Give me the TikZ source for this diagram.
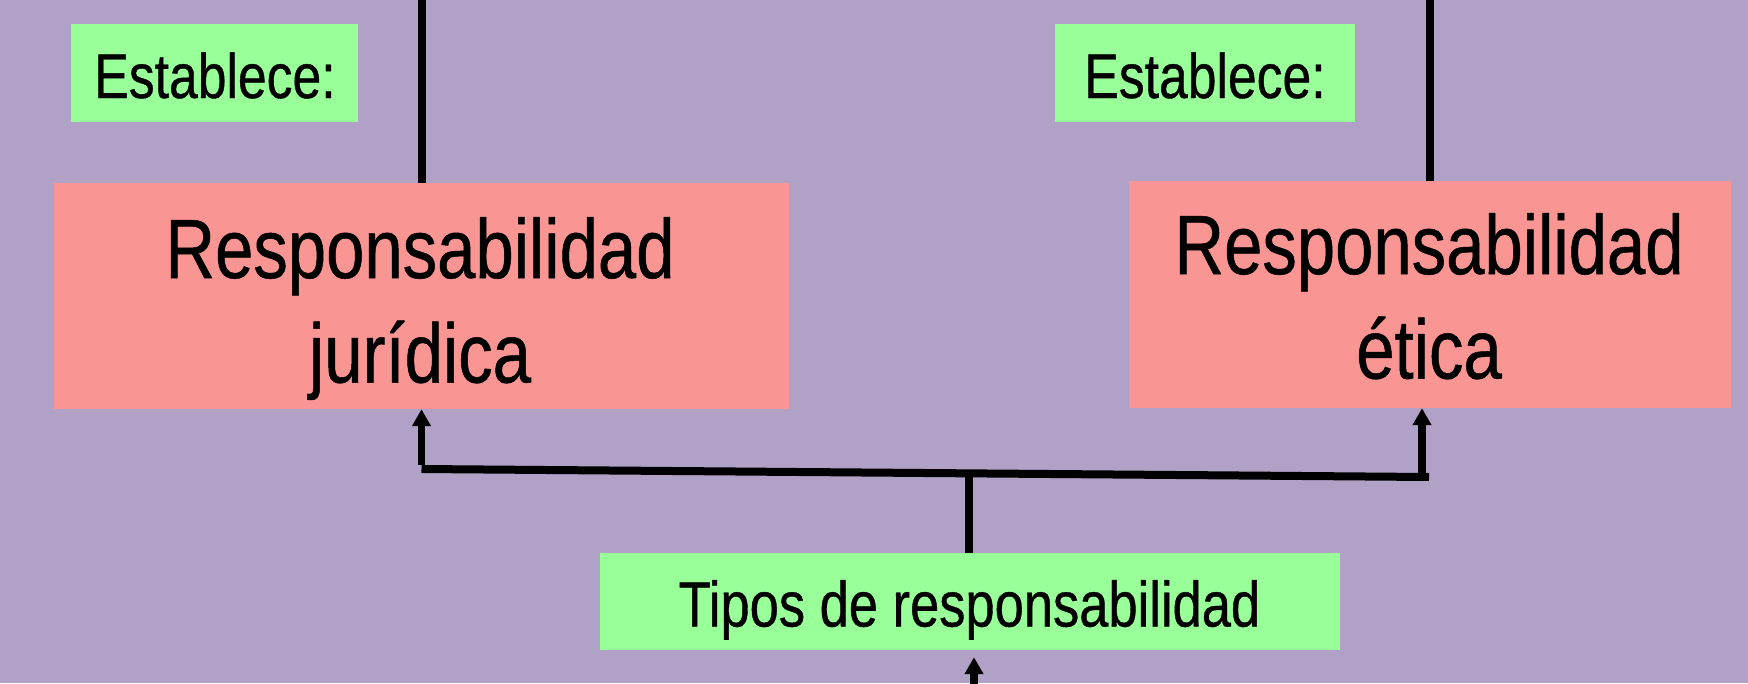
\documentclass[tikz,border=0pt]{standalone}
\usepackage{fontspec}
\setmainfont{Liberation Sans}[FakeStretch=0.82,FakeBold=0.6]
\usetikzlibrary{arrows.meta}
\definecolor{bglav}{HTML}{B2A1C7}
\definecolor{boxred}{HTML}{F99694}
\definecolor{boxgreen}{HTML}{99FF99}
\tikzset{
  greenbox/.style={fill=boxgreen,draw=none,inner sep=0pt},
  redbox/.style={fill=boxred,draw=none,inner sep=0pt},
  smalltxt/.style={inner sep=0pt,anchor=base,font=\fontsize{63}{76}\selectfont},
  bigtxt/.style={inner sep=0pt,anchor=base,font=\fontsize{84}{105}\selectfont},
  conn/.style={line width=8pt,draw=black},
  uparrow/.style={line width=7.5pt,draw=black,-{Triangle[width=18pt,length=17pt]}},
}
\begin{document}
\begin{tikzpicture}[x=1pt,y=-1pt]
\useasboundingbox (0,0) rectangle (1748,683);
\fill[bglav] (0,0) rectangle (1748,683);
% boxes
\node[greenbox,minimum width=287pt,minimum height=98pt] (est1) at (214.5,73) {};
\node[greenbox,minimum width=300pt,minimum height=98pt] (est2) at (1205,73) {};
\node[redbox,minimum width=735pt,minimum height=226pt] (rj) at (421.5,296) {};
\node[redbox,minimum width=602pt,minimum height=227pt] (re) at (1430,294.5) {};
\node[greenbox,minimum width=740pt,minimum height=97pt] (tipos) at (970,601.5) {};
% texts
\node[smalltxt] (est1t) at (215,98) {Establece:};
\node[smalltxt] (est2t) at (1205,98) {Establece:};
\node[bigtxt] (rj1) at (420,278) {Responsabilidad};
\node[bigtxt] (rj2) at (420,382.5) {jurídica};
\node[bigtxt] (re1) at (1429,274) {Responsabilidad};
\node[bigtxt] (re2) at (1429,378.5) {ética};
\node[smalltxt,font=\fontsize{64}{77}\selectfont] (tipost) at (969.5,626.5) {Tipos de responsabilidad};
% connectors
\coordinate (topl) at (422,-10);
\coordinate (topr) at (1430,-10);
\draw[conn] (topl) -- (topl |- rj.north);
\draw[conn] (topr) -- (topr |- re.north);
\coordinate (jl) at (421.5,469);
\coordinate (jr) at (1422,476.6);
\coordinate (hr) at (1429,477);
\coordinate (mid) at (969,473);
\coordinate (bot) at (974,695);
\draw[conn,line join=miter] (jl) -- (hr);
\draw[uparrow] ([yshift=4pt]jl) -- (jl |- rj.south);
\draw[uparrow] ([yshift=4pt]jr) -- (jr |- re.south);
\draw[conn] (tipos.north -| mid) -- (mid);
\draw[uparrow,shorten >=7pt] (bot) -- (bot |- tipos.south);
\end{tikzpicture}
\end{document}
